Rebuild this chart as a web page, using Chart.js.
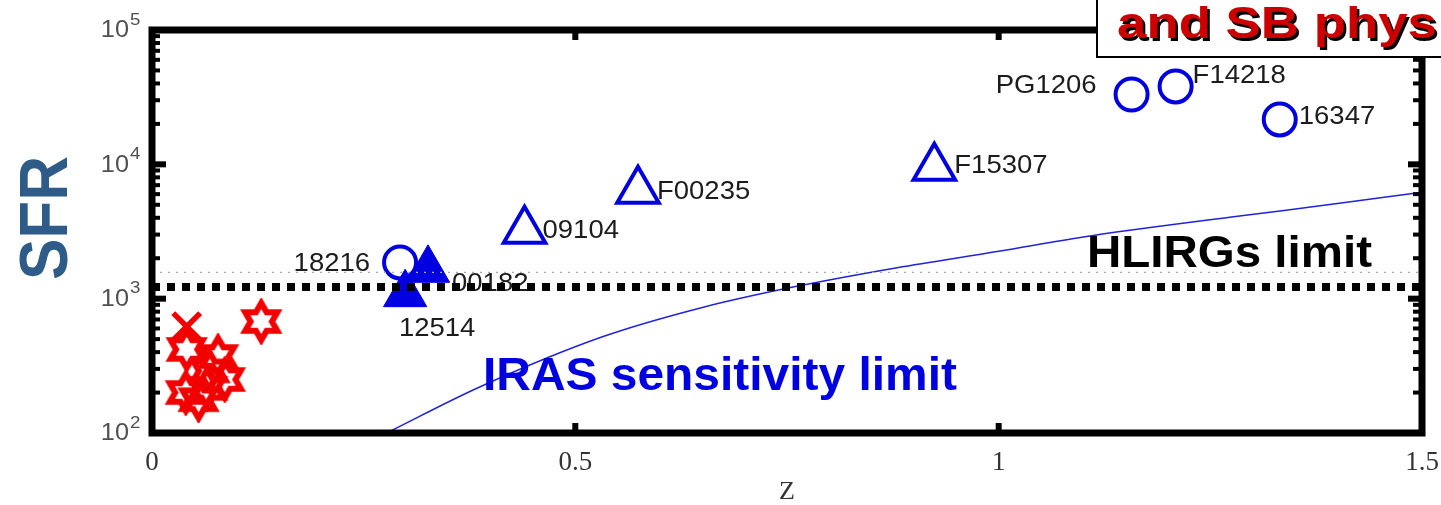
<!DOCTYPE html>
<html>
<head>
<meta charset="utf-8">
<script src="https://cdn.jsdelivr.net/npm/chart.js@4.4.1/dist/chart.umd.min.js"></script>
<style>
  html, body { margin: 0; padding: 0; background: #fff; }
  #wrap { width: 1441px; height: 505px; }
</style>
</head>
<body>
<div id="wrap"><canvas id="sfr" width="1441" height="505"></canvas></div>
<script>
// Quasar hosts (open circles)
const zCircles = [1.157, 1.209, 1.332, 0.293];
const sfrCircles = [33100, 38000, 21600, 1860];
const namesCircles = ['PG1206', 'F14218', '16347', '18216'];

// HLIRGs, open triangles
const zOpenTri = [0.924, 0.574, 0.440];
const sfrOpenTri = [9450, 6350, 3200];
const namesOpenTri = ['F15307', 'F00235', '09104'];

// HLIRGs, filled triangles
const zFilledTri = [0.326, 0.299];
const sfrFilledTri = [1640, 1080];
const namesFilledTri = ['00182', '12514'];

// local ULIRGs (hexagrams and a cross)
const zStars = [0.129, 0.041, 0.078, 0.068, 0.086, 0.055, 0.040, 0.065];
const sfrStars = [676, 419, 371, 290, 250, 177, 200, 215];
const zCross = [0.041];
const sfrCross = [620];

// IRAS flux limit expressed as SFR vs redshift
const zIras = [0.277, 0.387, 0.532, 0.650, 0.760, 0.880, 1.000, 1.100, 1.275, 1.400, 1.500];
const sfrIras = [100, 220, 520, 860, 1230, 1700, 2250, 2880, 4050, 5100, 6200];

// horizontal limits
const hlirgLimit = 1220;
const hlirgLimitThin = 1570;
const limitRangeZ = [0, 1.5];

const xTickValues = [0, 0.5, 1, 1.5];
const yTickValues = [100, 1000, 10000, 100000];

const BLUE = '#0000e0';
const RED = '#f20000';
const TEXT_STRETCH = 1.1;

// where each name goes relative to its marker
const labelPlacement = {
  PG1206: { dx: -35, dy: -8, align: 'right' },
  F14218: { dx: 17, dy: -10, align: 'left' },
  '16347': { dx: 19, dy: -2, align: 'left' },
  '18216': { dx: -30, dy: 2, align: 'right' },
  F15307: { dx: 20, dy: -2, align: 'left' },
  F00235: { dx: 19, dy: 1, align: 'left' },
  '09104': { dx: 18, dy: 0, align: 'left' },
  '00182': { dx: 24, dy: 14, align: 'left' },
  '12514': { dx: 32, dy: 35, align: 'center' }
};

const pts = (xs, ys) => xs.map((x, i) => ({ x: x, y: ys[i] }));

// hexagram marker
function makeHexagram(R, lw, color) {
  const size = Math.ceil(2 * R + lw + 4);
  const c = document.createElement('canvas');
  c.width = size; c.height = size;
  const g = c.getContext('2d');
  const r = R / Math.sqrt(3);
  g.beginPath();
  for (let k = 0; k < 12; k++) {
    const a = -Math.PI / 2 + k * Math.PI / 6;
    const rr = k % 2 === 0 ? R : r;
    const px = size / 2 + rr * Math.cos(a);
    const py = size / 2 + rr * Math.sin(a);
    if (k === 0) g.moveTo(px, py); else g.lineTo(px, py);
  }
  g.closePath();
  g.lineJoin = 'miter';
  g.lineWidth = lw;
  g.strokeStyle = color;
  g.stroke();
  return c;
}
const hexagram = makeHexagram(18.5, 6, RED);

function stretchedText(ctx, text, x, y, k) {
  ctx.save();
  ctx.translate(x, y);
  ctx.scale(k, 1);
  ctx.fillText(text, 0, 0);
  ctx.restore();
}

function fitText(ctx, text, x, y, width) {
  const w = ctx.measureText(text).width;
  stretchedText(ctx, text, x, y, width / w);
}

// names under the limit lines
const pointNames = {
  id: 'pointNames',
  beforeDatasetsDraw(chart) {
    const ctx = chart.ctx;
    ctx.save();
    ctx.font = '25px "Liberation Sans", Arial, sans-serif';
    ctx.fillStyle = '#1c1c1c';
    ctx.textBaseline = 'middle';
    ctx.textAlign = 'left';
    chart.data.datasets.forEach((ds, di) => {
      if (!ds.names) return;
      chart.getDatasetMeta(di).data.forEach((el, i) => {
        const name = ds.names[i];
        const p = labelPlacement[name];
        const w = ctx.measureText(name).width * TEXT_STRETCH;
        let x = el.x + p.dx;
        if (p.align === 'right') x -= w;
        if (p.align === 'center') x -= w / 2;
        stretchedText(ctx, name, x, el.y + p.dy, TEXT_STRETCH);
      });
    });
    ctx.restore();
  }
};

// box frame, inward ticks, decade labels and annotations
const frame = {
  id: 'frame',
  afterDatasetsDraw(chart) {
    const ctx = chart.ctx;
    const { left, right, top, bottom } = chart.chartArea;
    const ys = chart.scales.y, xs = chart.scales.x;
    ctx.save();
    ctx.fillStyle = '#000';
    // y ticks, both sides
    for (let d = 100; d <= 100000; d *= 10) {
      const yp = ys.getPixelForValue(d);
      ctx.fillRect(left, yp - 3, 14, 6);
      ctx.fillRect(right - 14, yp - 3, 14, 6);
      if (d === 100000) break;
      for (let m = 2; m <= 9; m++) {
        const ym = ys.getPixelForValue(m * d);
        ctx.fillRect(left, ym - 2, 8, 4);
        ctx.fillRect(right - 9, ym - 2, 9, 4);
      }
    }
    // x ticks, top and bottom
    xTickValues.forEach(v => {
      const xp = xs.getPixelForValue(v);
      ctx.fillRect(xp - 3, bottom - 10, 6, 10);
      ctx.fillRect(xp - 3, top, 6, 10);
    });
    ctx.lineWidth = 7;
    ctx.strokeStyle = '#000';
    ctx.strokeRect(left, top, right - left, bottom - top);

    // decade labels 10^n
    ctx.fillStyle = '#505050';
    ctx.textBaseline = 'middle';
    ctx.textAlign = 'left';
    yTickValues.forEach(v => {
      const yp = ys.getPixelForValue(v);
      const exp = String(Math.round(Math.log10(v)));
      ctx.font = '23px "Liberation Sans", Arial, sans-serif';
      const w = ctx.measureText('10').width * TEXT_STRETCH;
      stretchedText(ctx, '10', 129 - w, yp + 1, TEXT_STRETCH);
      ctx.font = '17px "Liberation Sans", Arial, sans-serif';
      stretchedText(ctx, exp, 130, yp - 10, TEXT_STRETCH);
    });

    // annotations
    ctx.textBaseline = 'alphabetic';
    ctx.font = 'bold 45px "Liberation Sans", Arial, sans-serif';
    ctx.fillStyle = '#000';
    fitText(ctx, 'HLIRGs limit', 1087, 267, 285);
    ctx.fillStyle = BLUE;
    ctx.font = 'bold 47px "Liberation Sans", Arial, sans-serif';
    fitText(ctx, 'IRAS sensitivity limit', 483, 390, 474);

    // y axis name
    ctx.save();
    ctx.translate(67, 280);
    ctx.rotate(-Math.PI / 2);
    ctx.fillStyle = '#2f5b88';
    ctx.font = 'bold 69px "Liberation Sans", Arial, sans-serif';
    fitText(ctx, 'SFR', 0, 0, 124);
    ctx.restore();
    ctx.restore();
  },
  afterDraw(chart) {
    const ctx = chart.ctx;
    ctx.save();
    ctx.fillStyle = '#fff';
    ctx.fillRect(1097, -5, 360, 62);
    ctx.lineWidth = 2;
    ctx.strokeStyle = '#000';
    ctx.strokeRect(1097, -5, 360, 62);
    ctx.font = 'bold 45px "Liberation Sans", Arial, sans-serif';
    ctx.textAlign = 'left';
    ctx.textBaseline = 'alphabetic';
    ctx.fillStyle = '#cc0000';
    ctx.shadowColor = '#000';
    ctx.shadowOffsetX = 2.5;
    ctx.shadowOffsetY = 2.5;
    ctx.shadowBlur = 0;
    fitText(ctx, 'and SB phys', 1117, 38, 320);
    ctx.restore();
  }
};

const limitLine = (value) => pts(limitRangeZ, limitRangeZ.map(() => value));

new Chart(document.getElementById('sfr'), {
  type: 'scatter',
  data: {
    datasets: [
      {
        type: 'line', data: limitLine(hlirgLimit),
        borderColor: '#000', borderWidth: 8, borderDash: [8, 7],
        borderCapStyle: 'butt', pointRadius: 0, fill: false
      },
      {
        type: 'line', data: limitLine(hlirgLimitThin),
        borderColor: '#a8a8a8', borderWidth: 1.2, borderDash: [2, 6],
        pointRadius: 0, fill: false
      },
      {
        data: pts(zFilledTri, sfrFilledTri), names: namesFilledTri,
        pointStyle: 'triangle', pointRadius: 25, borderWidth: 1,
        borderColor: BLUE, backgroundColor: BLUE
      },
      {
        data: pts(zCircles, sfrCircles), names: namesCircles,
        pointStyle: 'circle', pointRadius: 16, borderWidth: 4,
        borderColor: BLUE, backgroundColor: 'rgba(0,0,0,0)'
      },
      {
        data: pts(zOpenTri, sfrOpenTri), names: namesOpenTri,
        pointStyle: 'triangle', pointRadius: 24, borderWidth: 4,
        borderColor: BLUE, backgroundColor: 'rgba(0,0,0,0)'
      },
      {
        data: pts(zStars, sfrStars),
        pointStyle: hexagram, pointRadius: 18
      },
      {
        data: pts(zCross, sfrCross),
        pointStyle: 'crossRot', pointRadius: 19, borderWidth: 5.5,
        borderColor: RED
      },
      {
        type: 'line', data: pts(zIras, sfrIras),
        borderColor: '#2222dd', borderWidth: 1.5, pointRadius: 0,
        cubicInterpolationMode: 'monotone', fill: false
      }
    ]
  },
  options: {
    responsive: false,
    devicePixelRatio: 1,
    animation: false,
    events: [],
    layout: { autoPadding: false, padding: { left: 0, top: 30, right: 19, bottom: 0 } },
    plugins: { legend: { display: false }, tooltip: { enabled: false } },
    scales: {
      x: {
        type: 'linear', min: 0, max: 1.5,
        afterFit: s => { s.height = 72; s.paddingLeft = 0; s.paddingRight = 0; },
        afterBuildTicks: s => { s.ticks = xTickValues.map(v => ({ value: v })); },
        grid: { display: false, drawTicks: false },
        border: { display: false },
        ticks: {
          font: { family: '"Liberation Serif", "Times New Roman", serif', size: 27 },
          color: '#333', padding: 14, maxRotation: 0, autoSkip: false,
          callback: v => String(+v)
        },
        title: {
          display: true, text: 'Z', color: '#333', padding: 0,
          font: { family: '"Liberation Serif", "Times New Roman", serif', size: 26, lineHeight: 1 }
        }
      },
      y: {
        type: 'logarithmic', min: 100, max: 100000,
        afterFit: s => { s.width = 152; },
        grid: { display: false, drawTicks: false },
        border: { display: false },
        ticks: { display: false }
      }
    }
  },
  plugins: [pointNames, frame]
});
</script>
</body>
</html>
